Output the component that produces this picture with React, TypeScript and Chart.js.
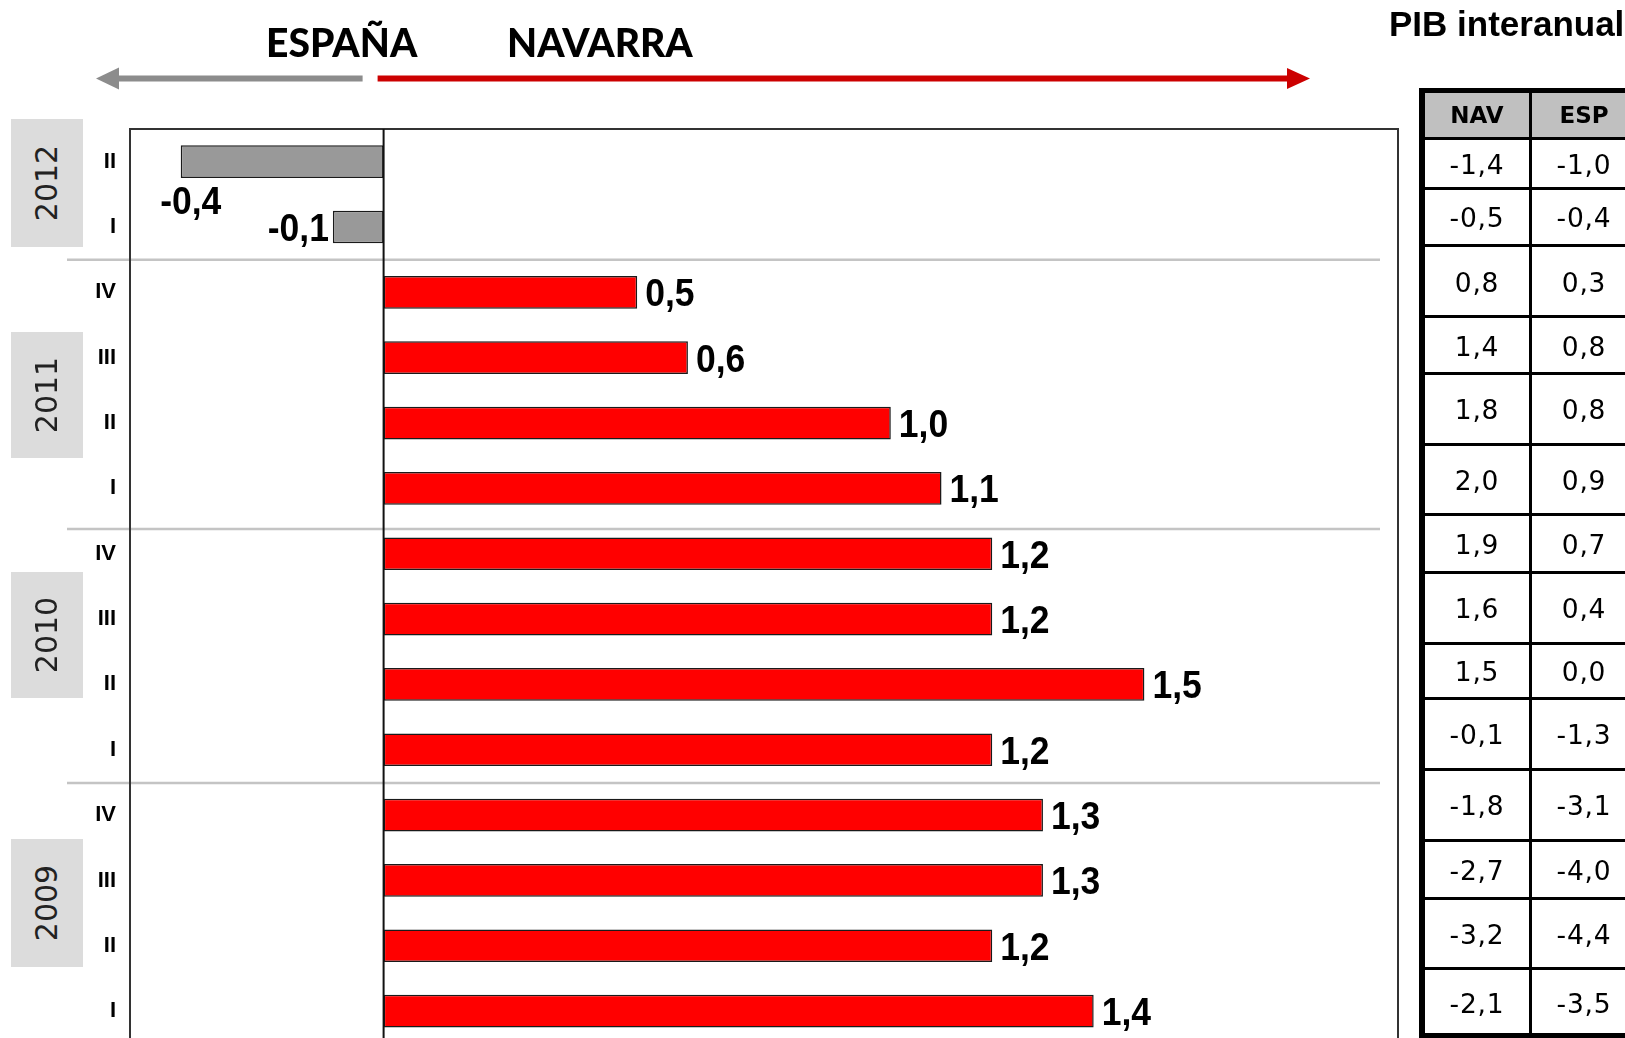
import React, { useEffect, useRef } from 'react';
import { Chart, registerables } from 'chart.js';

Chart.register(...registerables);

// ---- data ----
const quarterLabels = ['II', 'I', 'IV', 'III', 'II', 'I', 'IV', 'III', 'II', 'I', 'IV', 'III', 'II', 'I'];
const differential = [-0.4, -0.1, 0.5, 0.6, 1.0, 1.1, 1.2, 1.2, 1.5, 1.2, 1.3, 1.3, 1.2, 1.4];
const navValues = [-1.4, -0.5, 0.8, 1.4, 1.8, 2.0, 1.9, 1.6, 1.5, -0.1, -1.8, -2.7, -3.2, -2.1];
const espValues = [-1.0, -0.4, 0.3, 0.8, 0.8, 0.9, 0.7, 0.4, 0.0, -1.3, -3.1, -4.0, -4.4, -3.5];
const years = ['2012', '2011', '2010', '2009'];
const tableHeaders = ['NAV', 'ESP'];
const xMin = -0.5;
const xMax = 2.0;

// ---- layout (not data) ----
const yearBoxes = [
  { top: 119, height: 128 },
  { top: 332, height: 126 },
  { top: 572, height: 126 },
  { top: 839, height: 128 },
];
const separatorPositions = [1.5, 5.62, 9.51];
const tableLines = [138.5, 188, 245, 316.5, 373, 444, 514, 572, 643, 698, 769, 840, 898, 968, 1035.5];

const fmt = (v: number) => v.toFixed(1).replace('.', ',');

const W = 1625;
const H = 1038;
const CANVAS_H = 1071;

const labelFont = 'bold 39px "Liberation Sans", Arial, sans-serif';
const labelScaleX = 0.91;

export default function App() {
  const ref = useRef<HTMLCanvasElement>(null);

  useEffect(() => {
    const canvas = ref.current!;
    const decor = {
      id: 'decor',
      beforeDatasetsDraw(chart: any) {
        const { ctx, chartArea, scales } = chart;
        const y = scales.y;
        ctx.save();
        ctx.strokeStyle = '#c4c4c4';
        ctx.lineWidth = 2.5;
        separatorPositions.forEach((p) => {
          const py = y.getPixelForValue(p);
          ctx.beginPath();
          ctx.moveTo(chartArea.left - 63, py);
          ctx.lineTo(chartArea.right - 18, py);
          ctx.stroke();
        });
        ctx.restore();
      },
      afterDatasetsDraw(chart: any) {
        const { ctx, chartArea, scales } = chart;
        const x = scales.x;
        ctx.save();
        // plot border
        ctx.strokeStyle = '#333';
        ctx.lineWidth = 2;
        ctx.strokeRect(chartArea.left, chartArea.top, chartArea.right - chartArea.left, chartArea.bottom - chartArea.top);
        // zero line
        const zx = x.getPixelForValue(0);
        ctx.strokeStyle = '#111';
        ctx.beginPath();
        ctx.moveTo(zx, chartArea.top);
        ctx.lineTo(zx, chartArea.bottom);
        ctx.stroke();
        // value labels (slightly condensed bold)
        const meta = chart.getDatasetMeta(0);
        ctx.font = labelFont;
        ctx.fillStyle = '#000';
        ctx.textBaseline = 'alphabetic';
        const drawText = (txt: string, px: number, py: number, align: 'left' | 'right' | 'center') => {
          ctx.save();
          ctx.translate(px, py);
          ctx.scale(labelScaleX, 1);
          ctx.textAlign = align;
          ctx.fillText(txt, 0, 0);
          ctx.restore();
        };
        meta.data.forEach((bar: any, i: number) => {
          const v = differential[i];
          const txt = fmt(v);
          const w = ctx.measureText(txt).width * labelScaleX;
          if (v >= 0) {
            drawText(txt, bar.x + 8, bar.y + 14, 'left');
          } else if (bar.x - 4 - w < chartArea.left) {
            drawText(txt, bar.x + 10, bar.y + bar.height / 2 + 36, 'center');
          } else {
            drawText(txt, bar.x - 4, bar.y + 14, 'right');
          }
        });
        ctx.restore();
      },
      afterDraw(chart: any) {
        const { ctx, chartArea, scales } = chart;
        const zx = scales.x.getPixelForValue(0);
        const ay = chartArea.top - 50.5;
        ctx.save();
        // grey arrow (left)
        ctx.fillStyle = '#8c8c8c';
        ctx.fillRect(117, ay - 3, zx - 21 - 117, 6);
        ctx.beginPath();
        ctx.moveTo(96, ay);
        ctx.lineTo(119, ay - 11);
        ctx.lineTo(119, ay + 11);
        ctx.closePath();
        ctx.fill();
        // red arrow (right)
        ctx.fillStyle = '#cc0000';
        ctx.fillRect(zx - 6, ay - 3, 1288 - (zx - 6), 6);
        ctx.beginPath();
        ctx.moveTo(1310, ay);
        ctx.lineTo(1287, ay - 10.5);
        ctx.lineTo(1287, ay + 10.5);
        ctx.closePath();
        ctx.fill();
        ctx.restore();
      },
    };

    const chart = new Chart(canvas, {
      type: 'bar',
      data: {
        labels: quarterLabels,
        datasets: [
          {
            data: differential,
            backgroundColor: differential.map((v) => (v < 0 ? '#999999' : '#ff0000')),
            borderColor: '#1a1a1a',
            borderWidth: 1.5,
            borderSkipped: false,
            barPercentage: 0.5,
            categoryPercentage: 1.0,
          },
        ],
      },
      options: {
        indexAxis: 'y',
        responsive: false,
        animation: false,
        devicePixelRatio: 1,
        layout: { padding: { top: 129, right: 227, bottom: 6.8, left: 0 } },
        plugins: { legend: { display: false }, tooltip: { enabled: false } },
        scales: {
          x: { type: 'linear', min: xMin, max: xMax, display: false },
          y: {
            type: 'category',
            offset: true,
            grid: { display: false, drawTicks: false },
            border: { display: false },
            ticks: {
              color: '#000',
              padding: 14,
              font: { family: '"Liberation Sans", Arial, sans-serif', size: 22, weight: 'bold' },
            },
            afterFit(scale: any) {
              scale.width = 130;
            },
          },
        },
      },
      plugins: [decor],
    } as any);
    return () => chart.destroy();
  }, []);

  const cellText = (txt: string, top: number, bottom: number, col: number, header: boolean) => (
    <div
      key={`${txt}-${top}-${col}`}
      style={{
        position: 'absolute',
        left: col === 0 ? 1425 : 1531,
        width: col === 0 ? 104 : 106,
        top,
        height: bottom - top,
        display: 'flex',
        alignItems: 'center',
        justifyContent: 'center',
        fontFamily: '"DejaVu Sans", Verdana, sans-serif',
        fontSize: header ? 23 : 26.5,
        fontWeight: header ? 'bold' : 'normal',
        letterSpacing: header ? 0 : 0.8,
        lineHeight: 1,
        color: '#000',
        paddingTop: header ? 0 : 4,
        boxSizing: 'border-box',
      }}
    >
      {txt}
    </div>
  );

  return (
    <div style={{ position: 'fixed', left: 0, top: 0, width: W, height: H, overflow: 'hidden', background: '#fff' }}>
      <canvas ref={ref} width={W} height={CANVAS_H} style={{ position: 'absolute', left: 0, top: 0, width: W, height: CANVAS_H }} />

      {/* header texts */}
      <div style={{ position: 'absolute', left: 266, top: 22.5, fontFamily: 'Lato, sans-serif', fontWeight: 900, fontSize: 39, lineHeight: '39px', color: '#000', whiteSpace: 'nowrap' }}>ESPAÑA</div>
      <div style={{ position: 'absolute', left: 507, top: 22.5, fontFamily: 'Lato, sans-serif', fontWeight: 900, fontSize: 39, lineHeight: '39px', color: '#000', whiteSpace: 'nowrap' }}>NAVARRA</div>
      <div style={{ position: 'absolute', left: 1389, top: 5.5, fontFamily: '"Liberation Sans", Arial, sans-serif', fontWeight: 700, fontSize: 35, lineHeight: '35px', color: '#000', whiteSpace: 'nowrap' }}>PIB interanual</div>

      {/* year boxes */}
      {years.map((yr, i) => (
        <div
          key={yr}
          style={{
            position: 'absolute',
            left: 11,
            top: yearBoxes[i].top,
            width: 72,
            height: yearBoxes[i].height,
            background: '#dcdcdc',
            display: 'flex',
            alignItems: 'center',
            justifyContent: 'center',
          }}
        >
          <span style={{ transform: 'rotate(-90deg)', fontFamily: '"DejaVu Sans", Verdana, sans-serif', fontSize: 30, lineHeight: 1, color: '#222', whiteSpace: 'nowrap' }}>{yr}</span>
        </div>
      ))}

      {/* table */}
      <div style={{ position: 'absolute', left: 1425, top: 93, width: 220, height: tableLines[0] - 93, background: '#c0c0c0' }} />
      <div style={{ position: 'absolute', left: 1419, top: 88, width: 6, height: 950, background: '#000' }} />
      <div style={{ position: 'absolute', left: 1419, top: 88, width: 230, height: 5, background: '#000' }} />
      {tableLines.slice(0, -1).map((b) => (
        <div key={b} style={{ position: 'absolute', left: 1425, top: b - 1.5, width: 220, height: 3, background: '#000' }} />
      ))}
      <div style={{ position: 'absolute', left: 1419, top: 1033, width: 230, height: 5, background: '#000' }} />
      <div style={{ position: 'absolute', left: 1528.5, top: 93, width: 3.5, height: 945, background: '#000' }} />
      {tableHeaders.map((h, c) => cellText(h, 93, tableLines[0], c, true))}
      {navValues.map((v, i) => cellText(fmt(v), tableLines[i], tableLines[i + 1], 0, false))}
      {espValues.map((v, i) => cellText(fmt(v), tableLines[i], tableLines[i + 1], 1, false))}
    </div>
  );
}
